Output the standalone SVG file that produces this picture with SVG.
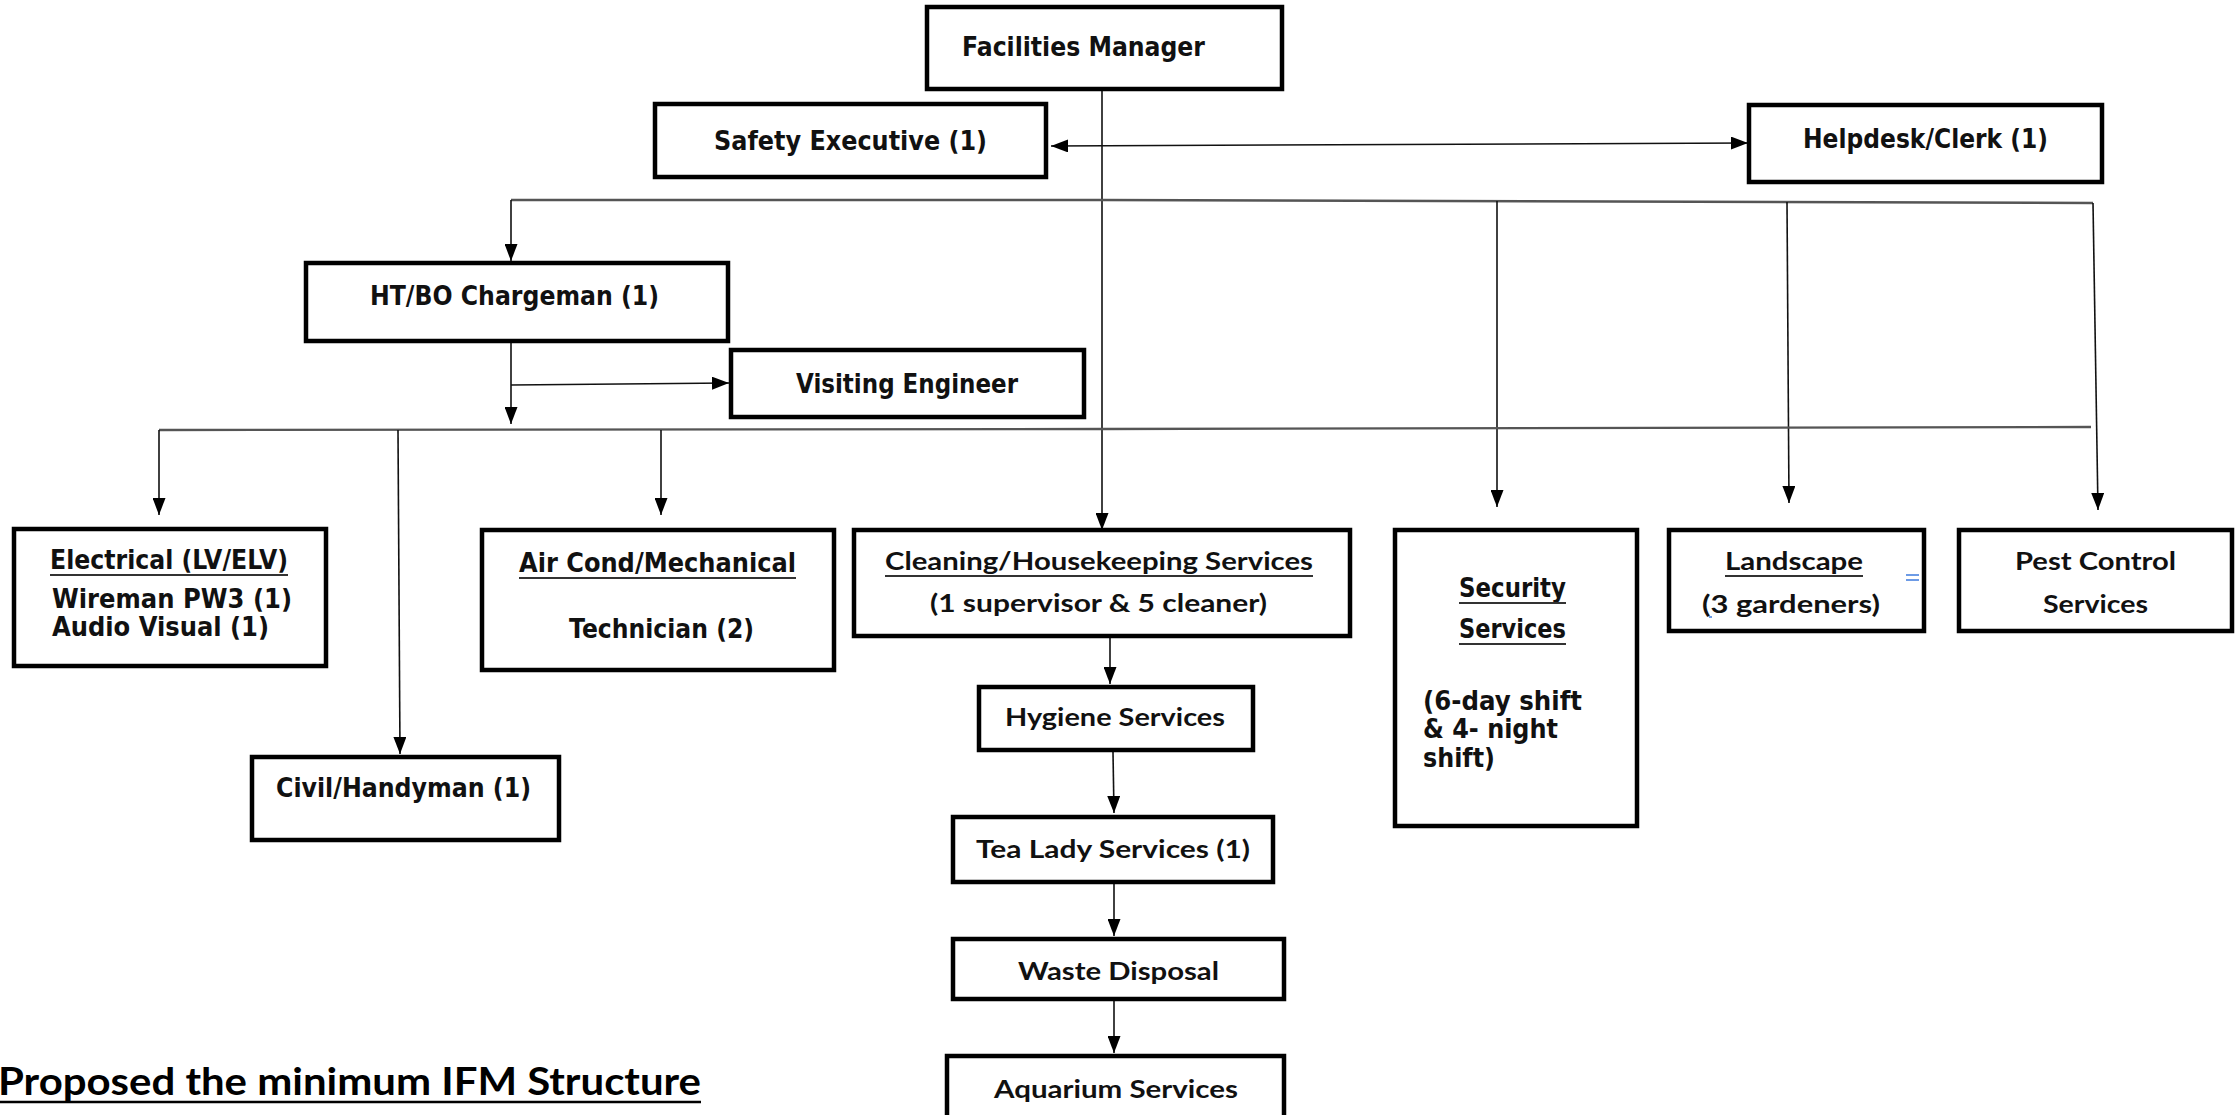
<svg xmlns="http://www.w3.org/2000/svg" width="2237" height="1115" viewBox="0 0 2237 1115">
<style>
.box{fill:#fff;stroke:#000;stroke-width:4.5}
.v{font-family:"DejaVu Sans",Verdana,sans-serif;font-weight:bold;font-size:26px;fill:#111}
.c{font-family:Lato,"Open Sans",sans-serif;font-weight:bold;font-size:25px;fill:#111}
.t{font-family:Lato,"Open Sans",sans-serif;font-weight:bold;font-size:38px;fill:#000}
.ul{stroke:#333;stroke-width:2}
.ln{fill:none;stroke:#111;stroke-width:1.6}
.br{fill:none;stroke:#555;stroke-width:2.4}
.blue{stroke:#6d9be6;stroke-width:2}
</style>
<defs>
<marker id="ah" viewBox="0 0 17 13" refX="17" refY="6.5" markerWidth="17" markerHeight="13" markerUnits="userSpaceOnUse" orient="auto-start-reverse">
<path d="M0,0 L17,6.5 L0,13 z" fill="#000"/>
</marker>
<clipPath id="elclip"><rect x="0" y="520" width="340" height="122"/></clipPath>
</defs>

<g id="connectors">
<line class="ln" x1="1102" y1="90" x2="1102" y2="530" marker-end="url(#ah)"/>
<line class="ln" x1="1051" y1="146" x2="1748" y2="143" marker-start="url(#ah)" marker-end="url(#ah)"/>
<polyline class="br" points="511,200 1102,200 2093,203"/>
<line class="ln" x1="511" y1="200" x2="511" y2="261" marker-end="url(#ah)"/>
<line class="ln" x1="1497" y1="201" x2="1497" y2="507" marker-end="url(#ah)"/>
<line class="ln" x1="1787" y1="202" x2="1789" y2="503" marker-end="url(#ah)"/>
<line class="ln" x1="2093" y1="203" x2="2098" y2="510" marker-end="url(#ah)"/>
<line class="ln" x1="511" y1="343" x2="511" y2="424" marker-end="url(#ah)"/>
<line class="ln" x1="511" y1="385" x2="729" y2="383" marker-end="url(#ah)"/>
<polyline class="br" points="159,430 1102,429 2091,427"/>
<line class="ln" x1="159" y1="430" x2="159" y2="515" marker-end="url(#ah)"/>
<line class="ln" x1="398" y1="430" x2="400" y2="754" marker-end="url(#ah)"/>
<line class="ln" x1="661" y1="430" x2="661" y2="515" marker-end="url(#ah)"/>
<line class="ln" x1="1110" y1="623" x2="1110" y2="684" marker-end="url(#ah)"/>
<line class="ln" x1="1113" y1="752" x2="1114" y2="813" marker-end="url(#ah)"/>
<line class="ln" x1="1114" y1="884" x2="1114" y2="936" marker-end="url(#ah)"/>
<line class="ln" x1="1114" y1="1001" x2="1114" y2="1053" marker-end="url(#ah)"/>
</g>

<g id="facilities-manager">
<rect class="box" x="927" y="7" width="355" height="82"/>
<text class="v" x="962" y="56" textLength="243" lengthAdjust="spacingAndGlyphs">Facilities Manager</text>
</g>

<g id="safety-executive">
<rect class="box" x="655" y="104" width="391" height="73"/>
<text class="v" x="714" y="150" textLength="273" lengthAdjust="spacingAndGlyphs">Safety Executive (1)</text>
</g>

<g id="helpdesk-clerk">
<rect class="box" x="1749" y="105" width="353" height="77"/>
<text class="v" x="1803" y="148" textLength="245" lengthAdjust="spacingAndGlyphs">Helpdesk/Clerk (1)</text>
</g>

<g id="ht-bo-chargeman">
<rect class="box" x="306" y="263" width="422" height="78"/>
<text class="v" x="370" y="305" textLength="289" lengthAdjust="spacingAndGlyphs">HT/BO Chargeman (1)</text>
</g>

<g id="visiting-engineer">
<rect class="box" x="731" y="350" width="353" height="67"/>
<text class="v" x="796" y="393" textLength="222" lengthAdjust="spacingAndGlyphs">Visiting Engineer</text>
</g>

<g id="electrical">
<rect class="box" x="14" y="529" width="312" height="137"/>
<g clip-path="url(#elclip)">
<text class="v" x="50" y="569" textLength="238" lengthAdjust="spacingAndGlyphs">Electrical (LV/ELV)</text>
<text class="v" x="52" y="608" textLength="240" lengthAdjust="spacingAndGlyphs">Wireman PW3 (1)</text>
<text class="v" x="52" y="636" textLength="217" lengthAdjust="spacingAndGlyphs">Audio Visual (1)</text>
</g>
<line class="ul" x1="50" y1="575" x2="288" y2="575"/>
</g>

<g id="air-cond-mechanical">
<rect class="box" x="482" y="530" width="352" height="140"/>
<text class="v" x="519" y="572" textLength="277" lengthAdjust="spacingAndGlyphs">Air Cond/Mechanical</text>
<line class="ul" x1="519" y1="578" x2="796" y2="578"/>
<text class="v" x="569" y="638" textLength="185" lengthAdjust="spacingAndGlyphs">Technician (2)</text>
</g>

<g id="civil-handyman">
<rect class="box" x="252" y="757" width="307" height="83"/>
<text class="v" x="276" y="797" textLength="255" lengthAdjust="spacingAndGlyphs">Civil/Handyman (1)</text>
</g>

<g id="cleaning-housekeeping">
<rect class="box" x="854" y="530" width="496" height="106"/>
<text class="c" x="885" y="570" textLength="428" lengthAdjust="spacingAndGlyphs">Cleaning/Housekeeping Services</text>
<line class="ul" x1="885" y1="576" x2="1313" y2="576"/>
<text class="c" x="930" y="612" textLength="337" lengthAdjust="spacingAndGlyphs">(1 supervisor &amp; 5 cleaner)</text>
</g>

<g id="hygiene-services">
<rect class="box" x="979" y="687" width="274" height="63"/>
<text class="c" x="1005" y="726" textLength="220" lengthAdjust="spacingAndGlyphs">Hygiene Services</text>
</g>

<g id="tea-lady-services">
<rect class="box" x="953" y="817" width="320" height="65"/>
<text class="c" x="976" y="858" textLength="274" lengthAdjust="spacingAndGlyphs">Tea Lady Services (1)</text>
</g>

<g id="waste-disposal">
<rect class="box" x="953" y="939" width="331" height="60"/>
<text class="c" x="1018" y="980" textLength="201" lengthAdjust="spacingAndGlyphs">Waste Disposal</text>
</g>

<g id="aquarium-services">
<rect class="box" x="947" y="1056" width="337" height="80"/>
<text class="c" x="994" y="1098" textLength="244" lengthAdjust="spacingAndGlyphs">Aquarium Services</text>
</g>

<g id="security-services">
<rect class="box" x="1395" y="530" width="242" height="296"/>
<text class="v" x="1459" y="597" textLength="107" lengthAdjust="spacingAndGlyphs">Security</text>
<line class="ul" x1="1459" y1="603" x2="1566" y2="603"/>
<text class="v" x="1459" y="638" textLength="107" lengthAdjust="spacingAndGlyphs">Services</text>
<line class="ul" x1="1459" y1="644" x2="1566" y2="644"/>
<text class="v" x="1423" y="710" textLength="159" lengthAdjust="spacingAndGlyphs">(6-day shift</text>
<text class="v" x="1423" y="738" textLength="135" lengthAdjust="spacingAndGlyphs">&amp; 4- night</text>
<text class="v" x="1423" y="767" textLength="72" lengthAdjust="spacingAndGlyphs">shift)</text>
</g>

<g id="landscape">
<rect class="box" x="1669" y="530" width="255" height="101"/>
<text class="c" x="1725" y="570" textLength="138" lengthAdjust="spacingAndGlyphs">Landscape</text>
<line class="ul" x1="1725" y1="576" x2="1863" y2="576"/>
<text class="c" x="1702" y="613" textLength="178" lengthAdjust="spacingAndGlyphs">(3 gardeners)</text>
<line class="blue" x1="1906" y1="575" x2="1919" y2="575"/>
<line class="blue" x1="1906" y1="580" x2="1919" y2="580"/>
<line class="blue" x1="1709" y1="617" x2="1712" y2="617"/>
</g>

<g id="pest-control">
<rect class="box" x="1959" y="530" width="273" height="101"/>
<text class="c" x="2015" y="570" textLength="161" lengthAdjust="spacingAndGlyphs">Pest Control</text>
<text class="c" x="2043" y="613" textLength="105" lengthAdjust="spacingAndGlyphs">Services</text>
</g>

<g id="title">
<text class="t" x="-2" y="1095" textLength="703" lengthAdjust="spacingAndGlyphs">Proposed the minimum IFM Structure</text>
<line x1="0" y1="1102" x2="701" y2="1102" stroke="#000" stroke-width="2.5"/>
</g>
</svg>
